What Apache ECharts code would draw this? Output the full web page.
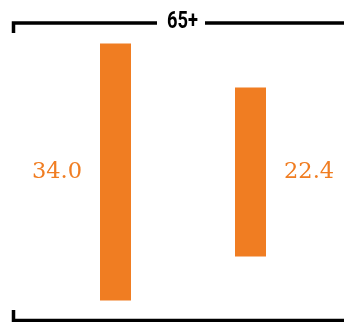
<!DOCTYPE html>
<html><head><meta charset="utf-8">
<script src="https://cdn.jsdelivr.net/npm/echarts@6/dist/echarts.min.js"></script>
<style>html,body{margin:0;padding:0;background:#fff}#c{width:344px;height:322px}</style>
</head><body><div id="c"></div>
<script>
var title = '65+';
var categories = ['A', 'B'];
var values = [34.0, 22.4];
var labelSides = ['left', 'right'];

var orange = '#F07D22';
var chart = echarts.init(document.getElementById('c'), null, {renderer: 'canvas'});
var half = values.map(function (v) { return v / 2; });
var negHalf = values.map(function (v) { return -v / 2; });

chart.setOption({
  animation: false,
  grid: {left: 48, width: 270, top: 36, height: 272},
  xAxis: {type: 'category', data: categories, show: false},
  yAxis: {type: 'value', min: -18, max: 18, show: false},
  series: [
    {
      type: 'bar', stack: 's', barWidth: 31,
      itemStyle: {color: orange},
      data: half.map(function (v, i) {
        var left = labelSides[i] === 'left';
        return {
          value: v,
          label: {
            show: true,
            formatter: values[i].toFixed(1),
            position: left ? [-18, '100%'] : [49, '100%'],
            align: left ? 'right' : 'left',
            verticalAlign: 'middle',
            color: orange,
            fontFamily: 'DejaVu Serif',
            fontWeight: 'normal',
            fontSize: 22.5
          }
        };
      })
    },
    {
      type: 'bar', stack: 's', barWidth: 31,
      itemStyle: {color: orange},
      data: negHalf
    }
  ],
  graphic: [
    {type: 'polyline', shape: {points: [[13.5, 33], [13.5, 23], [157, 23]]}, style: {stroke: '#000', lineWidth: 3.5, fill: null}},
    {type: 'line', shape: {x1: 205, y1: 23, x2: 344, y2: 23}, style: {stroke: '#000', lineWidth: 3.5}},
    {type: 'text', x: 182.5, y: 21.5, scaleX: 0.76, style: {text: title, fontFamily: 'Roboto', fontWeight: 'bold', fontSize: 24, fill: '#000', textAlign: 'center', textVerticalAlign: 'middle'}},
    {type: 'polyline', shape: {points: [[13.5, 310], [13.5, 320.5], [344, 320.5]]}, style: {stroke: '#000', lineWidth: 3.5, fill: null}}
  ]
});
</script></body></html>
